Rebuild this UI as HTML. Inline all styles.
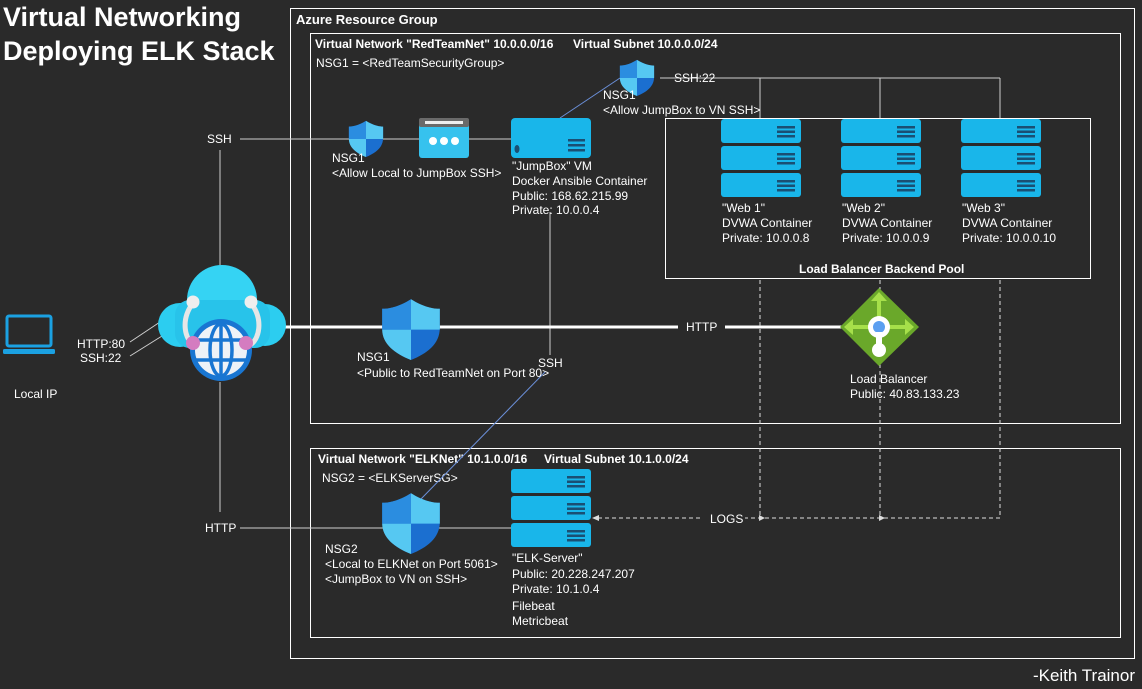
<!DOCTYPE html>
<html><head><meta charset="utf-8"><style>
html,body{margin:0;padding:0;background:#2a2a2a;}
svg{display:block;font-family:"Liberation Sans",Arial,sans-serif;}
text{fill:#fff;font-size:12px;}
.b{font-weight:bold;}
</style></head><body>
<svg width="1142" height="689" viewBox="0 0 1142 689" xmlns="http://www.w3.org/2000/svg">
<defs>
<g id="shield"><path d="M0,-18 C8,-13 14,-12 18,-12 L18,0 C18,10 10,16 0,20 C-10,16 -18,10 -18,0 L-18,-12 C-14,-12 -8,-13 0,-18Z" fill="#1b6fd0"/><path d="M0,-18 L0,1 L18,1 L18,-12 C14,-12 8,-13 0,-18Z" fill="#56c8f2"/><path d="M0,1 L-18,1 C-18,10 -10,16 0,20Z" fill="#56c8f2"/><path d="M0,-18 C-8,-13 -14,-12 -18,-12 L-18,1 L0,1Z" fill="#2b8de0"/></g>
<g id="unit"><rect x="0" y="0" width="80" height="24" rx="3" fill="#19b6ea"/><rect x="56" y="7" width="18" height="2.5" fill="#1a4f73"/><rect x="56" y="11.5" width="18" height="2.5" fill="#1a4f73"/><rect x="56" y="16" width="18" height="2.5" fill="#1a4f73"/></g>
<g id="rack"><use href="#unit" y="0"/><use href="#unit" y="27"/><use href="#unit" y="54"/></g>
</defs>

<text x="3" y="26" class="b" style="font-size:27px">Virtual Networking</text>
<text x="3" y="60" class="b" style="font-size:27px">Deploying ELK Stack</text>
<text x="1135" y="681" text-anchor="end" style="font-size:17px">-Keith Trainor</text>

<rect x="290.5" y="8.5" width="844" height="650" fill="none" stroke="#fff"/>
<text x="296" y="24" class="b" style="font-size:13px">Azure Resource Group</text>
<rect x="310.5" y="33.5" width="810" height="390" fill="none" stroke="#fff"/>
<text x="315" y="48" class="b">Virtual Network "RedTeamNet" 10.0.0.0/16</text>
<text x="573" y="48" class="b">Virtual Subnet 10.0.0.0/24</text>
<text x="316" y="67">NSG1 = &lt;RedTeamSecurityGroup&gt;</text>
<rect x="665.5" y="118.5" width="425" height="160" fill="none" stroke="#fff"/>
<text x="799" y="273" class="b">Load Balancer Backend Pool</text>
<rect x="310.5" y="448.5" width="810" height="189" fill="none" stroke="#fff"/>
<text x="318" y="463" class="b">Virtual Network "ELKNet" 10.1.0.0/16</text>
<text x="544" y="463" class="b">Virtual Subnet 10.1.0.0/24</text>
<text x="322" y="482">NSG2 = &lt;ELKServerSG&gt;</text>

<g stroke="#cfcfcf" stroke-width="1" fill="none">
<line x1="240" y1="139" x2="511" y2="139"/>
<line x1="220" y1="150" x2="220" y2="268"/>
<line x1="220" y1="382" x2="220" y2="512"/>
<line x1="240" y1="528" x2="511" y2="528"/>
<line x1="130" y1="342" x2="160" y2="322"/>
<line x1="130" y1="356" x2="162" y2="336"/>
<line x1="660" y1="78" x2="1000" y2="78"/>
<line x1="760" y1="78" x2="760" y2="118"/>
<line x1="880" y1="78" x2="880" y2="118"/>
<line x1="1000" y1="78" x2="1000" y2="118"/>
<line x1="550" y1="212" x2="550" y2="355"/>
</g>
<g stroke="#6b8fd8" stroke-width="1" fill="none">
<line x1="560" y1="118" x2="620" y2="78"/>
<line x1="545" y1="372" x2="420" y2="500"/>
</g>
<g stroke="#fff" stroke-width="3">
<line x1="280" y1="327" x2="678" y2="327"/>
<line x1="725" y1="327" x2="845" y2="327"/>
</g>
<g stroke="#ddd" stroke-width="1" stroke-dasharray="4,3" fill="none">
<line x1="760" y1="280" x2="760" y2="518"/>
<line x1="880" y1="280" x2="880" y2="518"/>
<line x1="1000" y1="280" x2="1000" y2="518"/>
<line x1="1000" y1="518" x2="745" y2="518"/>
<line x1="700" y1="518" x2="596" y2="518"/>
</g>
<path d="M592,518 l7,-3 v6z" fill="#ddd"/>
<path d="M765,518 l-6,-3 v6z" fill="#ddd"/>
<path d="M885,518 l-6,-3 v6z" fill="#ddd"/>

<text x="207" y="143">SSH</text>
<text x="205" y="532">HTTP</text>
<text x="686" y="331">HTTP</text>
<text x="538" y="367">SSH</text>
<text x="674" y="82">SSH:22</text>
<text x="710" y="523">LOGS</text>

<rect x="7" y="316" width="44" height="30" rx="2" fill="none" stroke="#1ba1e2" stroke-width="3"/>
<rect x="3" y="349" width="52" height="5" rx="1.5" fill="#1ba1e2"/>
<text x="14" y="398">Local IP</text>
<text x="77" y="348">HTTP:80</text>
<text x="80" y="362">SSH:22</text>

<g>
<circle cx="180" cy="325" r="22" fill="#2ccdf0"/>
<circle cx="265" cy="325" r="21" fill="#2ccdf0"/>
<circle cx="222" cy="300" r="35" fill="#35d3f3"/>
<rect x="175" y="300" width="95" height="48" rx="15" fill="#28c3ea"/>
<path d="M193,303 C180,320 185,340 194,345 M251,303 C264,320 259,340 250,345" stroke="#e6e6e6" stroke-width="5" fill="none"/>
<circle cx="193" cy="302" r="6.5" fill="#eee"/><circle cx="251" cy="302" r="6.5" fill="#eee"/>
<circle cx="221" cy="350" r="31" fill="#1976d2"/>
<circle cx="221" cy="350" r="26" fill="#eef2f7"/>
<g stroke="#1976d2" stroke-width="3.5" fill="none"><line x1="195" y1="340" x2="247" y2="340"/><line x1="195" y1="360" x2="247" y2="360"/><line x1="221" y1="324" x2="221" y2="376"/><ellipse cx="221" cy="350" rx="11" ry="26"/></g>
<circle cx="193" cy="343" r="7" fill="#d47cc0"/><circle cx="246" cy="343" r="7" fill="#d47cc0"/>
</g>

<use href="#shield" transform="translate(366,138) scale(0.95)"/>
<use href="#shield" transform="translate(411,328) scale(1.6)"/>
<use href="#shield" transform="translate(637,77) scale(0.95)"/>
<use href="#shield" transform="translate(411,522) scale(1.6)"/>
<text x="332" y="162">NSG1</text>
<text x="332" y="177">&lt;Allow Local to JumpBox SSH&gt;</text>
<text x="357" y="361">NSG1</text>
<text x="357" y="377">&lt;Public to RedTeamNet on Port 80&gt;</text>
<text x="603" y="99">NSG1</text>
<text x="603" y="114">&lt;Allow JumpBox to VN SSH&gt;</text>
<text x="325" y="553">NSG2</text>
<text x="325" y="568">&lt;Local to ELKNet on Port 5061&gt;</text>
<text x="325" y="583">&lt;JumpBox to VN on SSH&gt;</text>

<rect x="419" y="118" width="50" height="40" rx="3" fill="#36c2ee"/>
<rect x="419" y="118" width="50" height="9" rx="2" fill="#6a6a6a"/>
<rect x="425" y="121" width="38" height="3" fill="#eee"/>
<circle cx="433" cy="141" r="4" fill="#fff"/><circle cx="444" cy="141" r="4" fill="#fff"/><circle cx="455" cy="141" r="4" fill="#fff"/>

<rect x="511" y="118" width="80" height="40" rx="4" fill="#19b6ea"/>
<ellipse cx="517" cy="149" rx="2.5" ry="4" fill="#1a4f73"/>
<rect x="568" y="139" width="17" height="2.5" fill="#1a4f73"/><rect x="568" y="144" width="17" height="2.5" fill="#1a4f73"/><rect x="568" y="149" width="17" height="2.5" fill="#1a4f73"/>
<text x="512" y="170">"JumpBox" VM</text>
<text x="512" y="185">Docker Ansible Container</text>
<text x="512" y="200">Public: 168.62.215.99</text>
<text x="512" y="214">Private: 10.0.0.4</text>

<use href="#rack" x="721" y="119"/>
<use href="#rack" x="841" y="119"/>
<use href="#rack" x="961" y="119"/>
<text x="722" y="212">"Web 1"</text><text x="722" y="227">DVWA Container</text><text x="722" y="242">Private: 10.0.0.8</text>
<text x="842" y="212">"Web 2"</text><text x="842" y="227">DVWA Container</text><text x="842" y="242">Private: 10.0.0.9</text>
<text x="962" y="212">"Web 3"</text><text x="962" y="227">DVWA Container</text><text x="962" y="242">Private: 10.0.0.10</text>

<path d="M879,288 L919,327 L879,366 L840,327Z" fill="#6aa82a"/>
<g fill="#a6e04a"><path d="M879,292 l-8,9 h16z"/><path d="M844,327 l9,-8 v16z"/><path d="M914,327 l-9,-8 v16z"/><rect x="852" y="325" width="54" height="4"/><rect x="877" y="298" width="4" height="30"/></g>
<circle cx="879" cy="327" r="11" fill="#fff"/><circle cx="879" cy="327" r="6" fill="#5b9ff0"/>
<rect x="876" y="332" width="6" height="14" fill="#fff"/><circle cx="879" cy="350" r="7" fill="#fff"/>
<text x="850" y="383">Load Balancer</text>
<text x="850" y="398">Public: 40.83.133.23</text>

<use href="#rack" x="511" y="469"/>
<text x="512" y="562">"ELK-Server"</text>
<text x="512" y="578">Public: 20.228.247.207</text>
<text x="512" y="593">Private: 10.1.0.4</text>
<text x="512" y="610">Filebeat</text>
<text x="512" y="625">Metricbeat</text>
</svg>
</body></html>
